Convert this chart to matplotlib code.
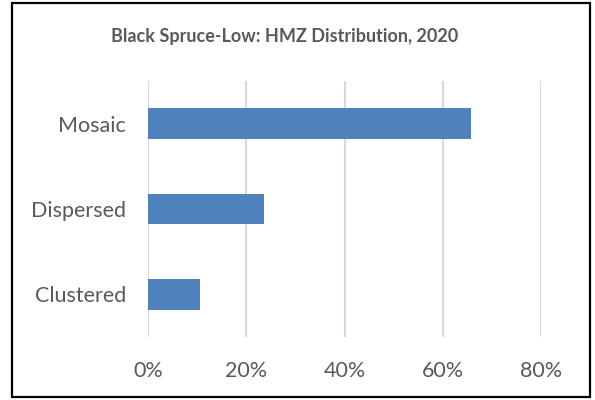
import numpy as np
import matplotlib.pyplot as plt
from matplotlib.patches import Rectangle
from matplotlib.ticker import PercentFormatter

# data
categories = ['Clustered', 'Dispersed', 'Mosaic']
shares = [0.106, 0.236, 0.657]
x_ticks = [0, 0.2, 0.4, 0.6, 0.8]

plt.rcParams['font.family'] = ['Lato', 'DejaVu Sans']
text_col = '#595959'

fig = plt.figure(figsize=(5.95, 4.0), dpi=100)
ax = fig.add_axes([148 / 595, 1 - 337 / 400, (541 - 148) / 595, (337 - 81) / 400])

y = np.arange(len(categories))
ax.barh(y, shares, height=0.36, color='#4F81BD', zorder=3)

ax.set_xlim(0, 0.8)
ax.set_ylim(-0.5, len(categories) - 0.5)
ax.set_xticks(x_ticks)
ax.xaxis.set_major_formatter(PercentFormatter(1.0, decimals=0))
ax.set_yticks(y)
ax.set_yticklabels(categories)
ax.grid(axis='x', color='#D9D9D9', linewidth=1.5, zorder=0)
for s in ax.spines.values():
    s.set_visible(False)
ax.tick_params(axis='both', length=0, labelsize=15.5, labelcolor=text_col)
ax.tick_params(axis='x', pad=17)
ax.tick_params(axis='y', pad=16)

fig.text(0.479, 0.908, 'Black Spruce-Low: HMZ Distribution, 2020',
         ha='center', va='center', fontsize=13, fontweight='bold', color=text_col)

# chart border
fig.patches.append(Rectangle((12 / 595, 3 / 400), 578 / 595, 394 / 400,
                             transform=fig.transFigure, fill=False,
                             edgecolor='black', linewidth=1.6))

fig.savefig('out.png', dpi=100)
